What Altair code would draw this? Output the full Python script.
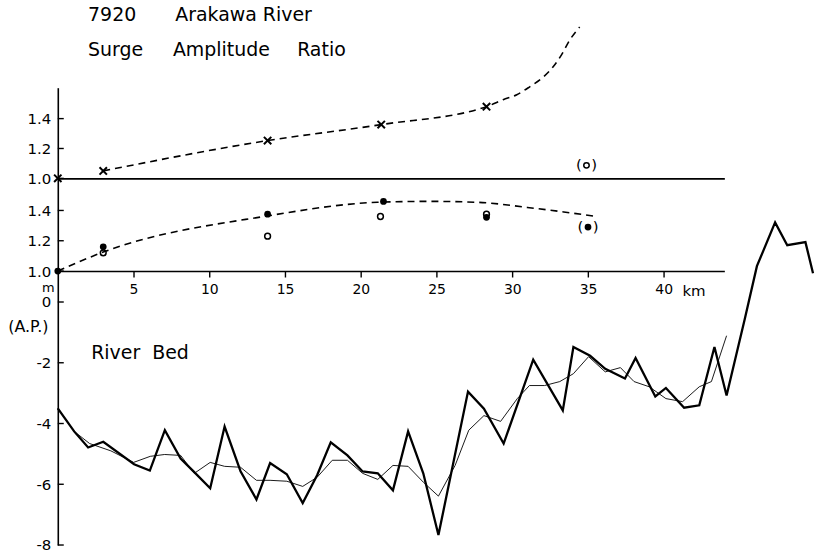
import altair as alt
import pandas as pd

FONT = "DejaVu Sans"

# ---- Upper panel: crosses (ratio) ----
cross_km = [0.0, 3.0, 13.85, 21.35, 28.3]
cross_ratio = [1.0, 1.05, 1.253, 1.36, 1.48]
cross_curve_km = [3.0, 13.85, 21.35, 28.3, 29.4, 30.3, 31.15, 32.07, 32.7, 33.25, 33.8, 34.45]
cross_curve_ratio = [1.05, 1.253, 1.36, 1.48, 1.527, 1.56, 1.613, 1.68, 1.747, 1.827, 1.927, 2.013]
paren_open_km = [34.9]
paren_open_ratio = [1.087]

# ---- Middle panel: dots ----
filled_km = [0.0, 3.0, 13.85, 21.5, 28.3]
filled_ratio = [1.0, 1.16, 1.375, 1.46, 1.355]
paren_filled_km = [35.0]
paren_filled_ratio = [1.29]
open_km = [3.0, 13.85, 21.3, 28.3]
open_ratio = [1.12, 1.23, 1.36, 1.375]
dot_curve_km = [0.0, 3.0, 13.85, 21.1, 24.4, 27.7, 31.0, 33.4, 35.6]
dot_curve_ratio = [1.0, 1.125, 1.364, 1.454, 1.46, 1.454, 1.42, 1.39, 1.36]

# ---- Bottom panel: river bed (m, A.P.) ----
bed_km = [0, 1.08, 2.0, 3.0, 5.03, 6.07, 7.06, 8.1, 9.0, 10.05, 11.0, 12.05, 13.1, 14.0,
          15.1, 16.15, 17.1, 18.0, 19.1, 20.1, 21.1, 22.1, 23.1, 24.1, 25.1, 27.05, 28.1,
          29.4, 31.35, 33.3, 34.0, 35.1, 36.1, 37.4, 38.1, 39.4, 40.1, 41.3, 42.3, 43.3,
          44.1, 45.3, 46.1, 47.3, 48.1, 49.3, 49.8]
bed_m = [-3.5, -4.26, -4.79, -4.6, -5.34, -5.55, -4.22, -5.15, -5.6, -6.13, -4.1, -5.57,
         -6.5, -5.3, -5.67, -6.62, -5.7, -4.62, -5.05, -5.58, -5.64, -6.2, -4.26, -5.64,
         -7.67, -2.95, -3.51, -4.66, -1.9, -3.57, -1.48, -1.77, -2.2, -2.52, -1.84, -3.11,
         -2.83, -3.48, -3.4, -1.48, -3.08, -0.56, 1.18, 2.62, 1.87, 1.97, 0.95]
mean_km = [0, 1.08, 2.1, 3.5, 5.0, 6.1, 7.05, 8.1, 9.0, 10.05, 11.0, 12.05, 13.1, 14.0,
           15.1, 16.15, 17.1, 18.1, 19.1, 20.1, 21.1, 22.1, 23.1, 24.1, 25.1, 26.2, 27.1,
           28.1, 29.2, 30.3, 31.1, 32.1, 33.1, 34.0, 35.0, 36.1, 37.1, 38.0, 39.0, 40.1,
           41.2, 42.3, 43.1, 44.1]
mean_m = [-3.5, -4.26, -4.66, -4.9, -5.28, -5.08, -5.02, -5.05, -5.64, -5.28, -5.41, -5.44,
          -5.87, -5.87, -5.9, -6.07, -5.77, -5.21, -5.21, -5.64, -5.84, -5.38, -5.41, -5.93,
          -6.39, -5.38, -4.22, -3.74, -3.93, -3.18, -2.75, -2.75, -2.62, -2.36, -1.8, -2.3,
          -2.16, -2.62, -2.79, -3.18, -3.28, -2.79, -2.62, -1.11]

ratio_ticks = [1.0, 1.2, 1.4]
km_ticks = [5, 10, 15, 20, 25, 30, 35, 40]
bed_ticks = [0, -2, -4, -6, -8]

# ---- annotations (text, position in data units) ----
top_texts = pd.DataFrame({
    "km": [2.0, 7.75, 2.0, 7.6, 15.8],
    "ratio": [2.093, 2.093, 1.86, 1.86, 1.86],
    "t": ["7920", "Arakawa River", "Surge", "Amplitude", "Ratio"],
})
mid_texts = pd.DataFrame({"km": [42.0], "ratio": [0.868], "t": ["km"]})
bed_texts = pd.DataFrame({
    "km": [2.2, -0.62],
    "m": [-1.67, 0.47],
    "t": ["River\u00a0\u00a0Bed", "m"],
})
ap_text = pd.DataFrame({"km": [-1.94], "m": [-0.82], "t": ["(A.P.)"]})

W_UP, W_BED = 669, 758
H_TOP, H_MID, H_BED = 91, 93, 275
AX = dict(domainColor="black", domainWidth=1.6, grid=False, title=None,
          labelFont=FONT, labelColor="black")

x_top = alt.X("km:Q", scale=alt.Scale(domain=[0, 44], nice=False, zero=False),
              axis=alt.Axis(ticks=False, labels=False, **AX))
x_mid = alt.X("km:Q", scale=alt.Scale(domain=[0, 44], nice=False, zero=False),
              axis=alt.Axis(values=km_ticks, tickColor="black", tickWidth=1.4, tickSize=6,
                            labelFontSize=14, labelPadding=6, **AX))
x_bed = alt.X("km:Q", scale=alt.Scale(domain=[0, 49.8], nice=False, zero=False), axis=None)

y_top = alt.Y("ratio:Q", scale=alt.Scale(domain=[1.0, 1.607], nice=False, zero=False),
              axis=alt.Axis(values=ratio_ticks, format=".1f", ticks=False, labelPadding=7,
                            labelFontSize=15, **AX))
y_mid = alt.Y("ratio:Q", scale=alt.Scale(domain=[1.0, 1.612], nice=False, zero=False),
              axis=alt.Axis(values=ratio_ticks, format=".1f", ticks=False, labelPadding=7,
                            labelFontSize=15, **AX))
y_bed = alt.Y("m:Q", scale=alt.Scale(domain=[-8, 1.02], nice=False, zero=False),
              axis=alt.Axis(values=bed_ticks, labelExpr="'' + datum.value", ticks=False,
                            labelPadding=7, labelFontSize=15, **AX))

xshape = "M-1,-1L1,1M-1,1L1,-1"

# ---------- top panel ----------
df_cross = pd.DataFrame({"km": cross_km, "ratio": cross_ratio})
df_ccurve = pd.DataFrame({"km": cross_curve_km, "ratio": cross_curve_ratio})
df_po = pd.DataFrame({"km": paren_open_km, "ratio": paren_open_ratio, "t": ["(\u00a0\u00a0)"]})
df_rt = pd.DataFrame({"ratio": ratio_ticks})

top = alt.layer(
    alt.Chart(df_ccurve).mark_line(color="black", strokeWidth=1.6, strokeDash=[7, 5],
                                   interpolate="monotone").encode(x=x_top, y=y_top),
    alt.Chart(df_cross).mark_point(shape=xshape, size=55, color="black", strokeWidth=2,
                                   filled=False, opacity=1).encode(x=x_top, y=y_top),
    alt.Chart(df_po).mark_point(shape="circle", size=30, color="black", strokeWidth=1.5,
                                filled=False, opacity=1).encode(x=x_top, y=y_top),
    alt.Chart(df_po).mark_text(font=FONT, fontSize=15, color="black").encode(
        x=x_top, y=y_top, text="t:N"),
    alt.Chart(df_rt).mark_rule(color="black", strokeWidth=1.4).encode(
        y=y_top, x=alt.value(0), x2=alt.value(6)),
    alt.Chart(top_texts).mark_text(font=FONT, fontSize=19, align="left", baseline="middle",
                                   color="black").encode(x=x_top, y=y_top, text="t:N"),
).properties(width=W_UP, height=H_TOP)

# ---------- middle panel ----------
df_f = pd.DataFrame({"km": filled_km, "ratio": filled_ratio})
df_pf = pd.DataFrame({"km": paren_filled_km, "ratio": paren_filled_ratio, "t": ["(\u00a0\u00a0)"]})
df_o = pd.DataFrame({"km": open_km, "ratio": open_ratio})
df_dcurve = pd.DataFrame({"km": dot_curve_km, "ratio": dot_curve_ratio})

mid = alt.layer(
    alt.Chart(df_dcurve).mark_line(color="black", strokeWidth=1.6, strokeDash=[7, 5],
                                   interpolate="monotone").encode(x=x_mid, y=y_mid),
    alt.Chart(df_o).mark_point(shape="circle", size=34, color="black", strokeWidth=1.5,
                               filled=False, opacity=1).encode(x=x_mid, y=y_mid),
    alt.Chart(df_f).mark_point(shape="circle", size=46, color="black", filled=True,
                               opacity=1).encode(x=x_mid, y=y_mid),
    alt.Chart(df_pf).mark_point(shape="circle", size=46, color="black", filled=True,
                                opacity=1).encode(x=x_mid, y=y_mid),
    alt.Chart(df_pf).mark_text(font=FONT, fontSize=15, color="black").encode(
        x=x_mid, y=y_mid, text="t:N"),
    alt.Chart(df_rt).mark_rule(color="black", strokeWidth=1.4).encode(
        y=y_mid, x=alt.value(0), x2=alt.value(6)),
    alt.Chart(mid_texts).mark_text(font=FONT, fontSize=15, align="center", baseline="middle",
                                   color="black").encode(x=x_mid, y=y_mid, text="t:N"),
).properties(width=W_UP, height=H_MID)

# ---------- bottom panel ----------
df_bed = pd.DataFrame({"km": bed_km, "m": bed_m})
df_mean = pd.DataFrame({"km": mean_km, "m": mean_m})
df_bt = pd.DataFrame({"m": bed_ticks})

bed = alt.layer(
    alt.Chart(df_mean).mark_line(color="black", strokeWidth=0.9).encode(x=x_bed, y=y_bed),
    alt.Chart(df_bed).mark_line(color="black", strokeWidth=2.3, strokeJoin="miter").encode(
        x=x_bed, y=y_bed),
    alt.Chart(df_bt).mark_rule(color="black", strokeWidth=1.4).encode(
        y=y_bed, x=alt.value(0), x2=alt.value(6)),
    alt.Chart(bed_texts.iloc[[0]]).mark_text(font=FONT, fontSize=19, align="left",
                                              baseline="middle", color="black").encode(
        x=x_bed, y=y_bed, text="t:N"),
    alt.Chart(bed_texts.iloc[[1]]).mark_text(font=FONT, fontSize=13, align="center",
                                              baseline="middle", color="black").encode(
        x=x_bed, y=y_bed, text="t:N"),
    alt.Chart(ap_text).mark_text(font=FONT, fontSize=16, align="center", baseline="middle",
                                 color="black").encode(x=x_bed, y=y_bed, text="t:N"),
).properties(width=W_BED, height=H_BED)

chart = alt.vconcat(top, mid, bed, spacing=0, bounds="flush").resolve_scale(
    x="independent", y="independent"
).properties(
    padding={"left": 8, "top": 5, "right": 0, "bottom": 0},
    background="white",
).configure_view(strokeWidth=0)

chart.save("out.html", embed_options={"renderer": "svg", "actions": False})
